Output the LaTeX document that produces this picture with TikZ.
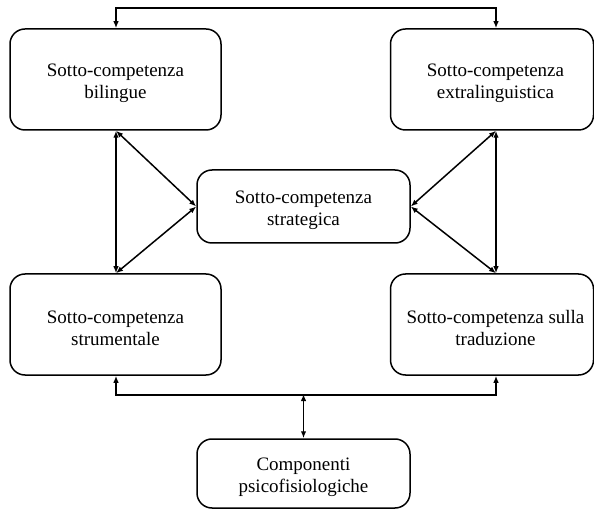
\documentclass[tikz,border=0pt]{standalone}
\usepackage{fontspec}
\setmainfont{Liberation Serif}
\usetikzlibrary{arrows.meta}
\newcommand\dnstrut{\rule{0pt}{20pt}}
\begin{document}
\begin{tikzpicture}[x=1pt,y=-1pt,
  box/.style={draw,line width=1.5pt,rounded corners=15pt,align=center,
    font=\fontsize{19}{21.5}\selectfont,inner sep=0pt},
  conn/.style={line width=1.5pt,{Latex[length=7pt,width=5.5pt]}-{Latex[length=7pt,width=5.5pt]}}]
\useasboundingbox (0,0) rectangle (594,510);
\node[box,minimum width=211pt,minimum height=101pt] (tl) at (115.5,79.5) {\dnstrut Sotto-competenza\\bilingue};
\node[box,minimum width=203pt,minimum height=101pt] (tr) at (492,79.5) {\dnstrut\hspace*{7pt}Sotto-competenza\\\hspace*{7pt}extralinguistica};
\node[box,minimum width=213pt,minimum height=73pt] (st) at (303.5,206.5) {\dnstrut Sotto-competenza\\strategica};
\node[box,minimum width=211pt,minimum height=101pt] (bl) at (115.5,324.5) {\dnstrut Sotto-competenza\\strumentale};
\node[box,minimum width=203pt,minimum height=101pt] (br) at (492,324.5) {\dnstrut\hspace*{7pt}Sotto-competenza sulla\\\hspace*{7pt}traduzione};
\node[box,minimum width=213pt,minimum height=69pt] (pc) at (303.5,473.5) {\dnstrut Componenti\\psicofisiologiche};
\coordinate (tlx) at ([xshift=0.5pt]tl.north);
\coordinate (trx) at ([xshift=4pt]tr.north);
\coordinate (blx) at ([xshift=0.5pt]bl.south);
\coordinate (brx) at ([xshift=4pt]br.south);
\coordinate (bj) at (303.5,394);
% top connector
\draw[conn] (tlx) -- ++(0,-20) -| (trx);
% left side
\draw[conn] ([xshift=0.5pt]tl.south) -- ([xshift=0.5pt]bl.north);
\draw[conn] ([xshift=0.5pt]tl.south) -- (st.west);
\draw[conn] ([xshift=0.5pt]bl.north) -- (st.west);
% right side
\draw[conn] ([xshift=4pt]tr.south) -- ([xshift=4pt]br.north);
\draw[conn] ([xshift=4pt]tr.south) -- (st.east);
\draw[conn] ([xshift=4pt]br.north) -- (st.east);
% bottom connector
\draw[conn] (blx) -- ++(0,19) -| (brx);
\draw[conn] (bj) -- (pc.north);
\end{tikzpicture}
\end{document}
